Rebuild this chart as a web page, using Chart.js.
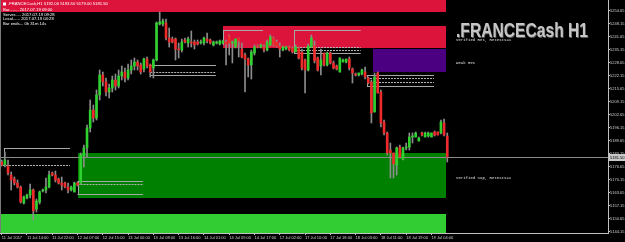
<!DOCTYPE html>
<html>
<head>
<meta charset="utf-8">
<script src="https://cdn.jsdelivr.net/npm/chart.js@4.4.1/dist/chart.umd.min.js"></script>
<style>
  html, body { margin:0; padding:0; background:#000; }
  canvas { display:block; }
</style>
</head>
<body>
<canvas id="graph" width="625" height="242"></canvas>
<script>
/* ---- H1 bars ---- */
const opens = [
  5179, 5177.5, 5177, 5172.5, 5170.5, 5168.5, 5166.5, 5158.5, 5161, 5162.5,
  5165, 5155.5, 5159, 5164.5, 5165, 5166.5, 5173.5, 5172.5, 5170.5, 5168.5,
  5168.5, 5166.5, 5165, 5164, 5168.5, 5168.5, 5182, 5186, 5196, 5205,
  5201, 5212.5, 5222.5, 5219, 5214, 5216, 5220, 5217, 5222, 5224,
  5221, 5225, 5227, 5229, 5227.5, 5225.5, 5230.5, 5227.5, 5226, 5230,
  5248, 5248, 5248.5, 5241, 5240.5, 5240.5, 5235.5, 5235, 5240, 5238.5,
  5239, 5239, 5239, 5238.5, 5238.5, 5240.5, 5240, 5237.5, 5238.5, 5238,
  5238.5, 5239, 5242, 5238.5, 5236.5, 5241, 5235.5, 5232.5, 5230.5, 5227.5,
  5233.5, 5237, 5236.5, 5236.5, 5235, 5237.5, 5241, 5239, 5237, 5235,
  5235.5, 5236.5, 5236, 5234, 5236, 5234, 5230, 5225, 5236.5, 5237,
  5231, 5227, 5233.5, 5227.5, 5233.5, 5228.5, 5227, 5224, 5229, 5229,
  5230.5, 5225.5, 5223, 5222.5, 5223, 5224, 5221, 5219, 5204, 5223.5,
  5214, 5199, 5193.5, 5185, 5183.5, 5177.5, 5186.5, 5180.5, 5186, 5186.5,
  5191.5, 5191.5, 5189.5, 5193.5, 5191.5, 5192, 5191.5, 5194, 5194, 5193.5,
  5198.5, 5192
];
const highs = [
  5180, 5184, 5180, 5174, 5171.5, 5170, 5167, 5162, 5163, 5168,
  5165.5, 5160.5, 5164.5, 5165.5, 5171, 5174.5, 5174, 5174.5, 5171, 5171.5,
  5169, 5168.5, 5167, 5169, 5169, 5183.5, 5187.5, 5197.5, 5210, 5207.5,
  5215, 5225, 5224, 5221, 5218, 5222, 5223, 5225, 5227, 5226,
  5228, 5230, 5231, 5230, 5228.5, 5231, 5231.5, 5228, 5230.5, 5249,
  5254, 5250.5, 5250.5, 5246, 5241.5, 5241, 5238.5, 5240.5, 5241, 5241.5,
  5244.5, 5240, 5240, 5240, 5241.5, 5243.5, 5240.5, 5239.5, 5239.5, 5240,
  5240, 5240, 5242.5, 5239.5, 5240.5, 5241, 5238.5, 5233.5, 5231, 5235,
  5237.5, 5237.5, 5238, 5237.5, 5240, 5242.5, 5241.5, 5240, 5238.5, 5237,
  5237, 5237, 5236.5, 5237.5, 5236.5, 5235.5, 5230.5, 5238, 5242.5, 5239.5,
  5231.5, 5235.5, 5233.5, 5234, 5234, 5229.5, 5227.5, 5231, 5230.5, 5230.5,
  5231.5, 5226, 5223.5, 5223.5, 5225.5, 5226.5, 5221.5, 5220, 5223.5, 5224,
  5215, 5200, 5194, 5188.5, 5183.5, 5186.5, 5187.5, 5186.5, 5188.5, 5193.5,
  5193.5, 5194, 5191.5, 5194, 5194, 5194, 5193.5, 5194.5, 5194, 5200,
  5200.5, 5193.5
];
const lows = [
  5177, 5176.5, 5172.5, 5165, 5167.5, 5166, 5158.5, 5158, 5160.5, 5161,
  5150, 5154, 5158, 5164, 5163.5, 5166, 5172, 5169, 5168, 5165,
  5166, 5163.5, 5164.5, 5164, 5167, 5168, 5176.5, 5181.5, 5194, 5199,
  5200, 5210, 5217, 5212, 5211, 5214, 5215, 5216, 5220, 5219,
  5220, 5223, 5225, 5225, 5223, 5224, 5226, 5221.5, 5221, 5229.5,
  5247.5, 5247, 5240, 5236.5, 5238.5, 5230, 5231, 5234, 5238.5, 5236.5,
  5236.5, 5235.5, 5237.5, 5238, 5237.5, 5238.5, 5238, 5237, 5238, 5237.5,
  5238, 5227.5, 5232.5, 5228.5, 5236, 5231.5, 5231, 5214, 5221.5, 5220.5,
  5232.5, 5236, 5236, 5234, 5234.5, 5237, 5237, 5236.5, 5231.5, 5234.5,
  5235, 5234.5, 5233.5, 5234, 5230.5, 5225, 5213.5, 5224.5, 5236.5, 5228.5,
  5224.5, 5222.5, 5227, 5227, 5228, 5225.5, 5225, 5224, 5229, 5228.5,
  5225, 5218.5, 5222, 5222, 5222.5, 5220.5, 5218, 5198.5, 5204, 5213.5,
  5196.5, 5192.5, 5182.5, 5171, 5171, 5172.5, 5181, 5180, 5185, 5185,
  5188.5, 5191.5, 5189.5, 5192, 5191.5, 5191.5, 5191.5, 5192, 5192.5, 5193,
  5192, 5179
];
const closes = [
  5177.5, 5180, 5173.5, 5170, 5168.5, 5166.5, 5159, 5161.5, 5162.5, 5165,
  5154.5, 5159.5, 5164, 5165, 5166.5, 5172.5, 5172.5, 5170, 5168.5, 5167.5,
  5166.5, 5165, 5166.5, 5168.5, 5167.5, 5182.5, 5186, 5196, 5205, 5201,
  5212.5, 5222.5, 5219, 5214, 5216, 5220, 5217, 5222, 5224, 5221,
  5225, 5227, 5229, 5227, 5224, 5230.5, 5227, 5224, 5230, 5248.5,
  5249, 5249.5, 5241, 5239, 5239, 5235.5, 5235, 5239, 5239, 5240.5,
  5238.5, 5237.5, 5238, 5239, 5241, 5239.5, 5238.5, 5239, 5239, 5239.5,
  5239.5, 5238, 5238.5, 5239, 5240.5, 5239.5, 5231.5, 5230.5, 5227.5, 5234,
  5236.5, 5236.5, 5237.5, 5235, 5239, 5241.5, 5237.5, 5237, 5235.5, 5236.5,
  5236.5, 5235, 5234, 5236.5, 5231, 5226, 5225, 5237, 5241, 5229.5,
  5225, 5230, 5227.5, 5233.5, 5228.5, 5226, 5225.5, 5231, 5230, 5230.5,
  5226, 5223.5, 5222.5, 5223.5, 5225, 5221.5, 5218.5, 5203.5, 5221.5, 5213.5,
  5198.5, 5193.5, 5183.5, 5183.5, 5178, 5186, 5181.5, 5186, 5186.5, 5191.5,
  5192, 5193.5, 5191, 5192.5, 5193.5, 5193.5, 5193.5, 5192.5, 5192.5, 5199,
  5192.5, 5181.5
];

/* time axis: one label every 8 bars */
const xTickBars = [0, 8, 16, 24, 32, 40, 48, 56, 64, 72, 80, 88, 96, 104, 112, 120, 128, 136];
const xTickLabels = ['11 Jul 2017', '11 Jul 14:00', '11 Jul 22:00', '12 Jul 07:00', '12 Jul 15:00', '13 Jul 00:00',
  '13 Jul 08:00', '13 Jul 16:00', '14 Jul 01:00', '14 Jul 09:00', '14 Jul 17:00', '17 Jul 02:00',
  '17 Jul 10:00', '17 Jul 18:00', '18 Jul 03:00', '18 Jul 11:00', '18 Jul 19:00', '19 Jul 04:00'];
const yTicks = [5254.65, 5248.15, 5241.65, 5235.15, 5228.65, 5222.15, 5215.65, 5209.15, 5202.65,
  5196.15, 5189.65, 5183.15, 5176.65, 5170.15, 5163.65, 5157.15, 5150.65, 5144.15];

/* supply / demand zones (bar from, bar to, price top, price bottom) */
const zoneNames  = ['topRes', 'res', 'weakRes', 'sup', 'bottomSup'];
const zoneFrom   = [-1, 70, 117.6, 24, -1];
const zoneTo     = [140.6, 140.6, 140.6, 140.6, 140.6];
const zoneTop    = [5260, 5247, 5235.5, 5183.5, 5153];
const zoneBottom = [5254.2, 5236, 5224, 5161, 5143.5];
const zoneTexts  = ['', 'Verified Res, Retests=1', 'Weak Res', 'Verified Sup, Retests=1', ''];

/* grey level lines (bar from, bar to, price) and their left edges (bar, top, bottom) */
const solidLevels = [[0.7, 21.6, 5186], [24, 44.7, 5169.5], [24, 44.7, 5163], [47, 67.8, 5227.5], [47, 67.8, 5222.5],
  [70, 82.7, 5245], [92.5, 113.6, 5245], [92.5, 113.6, 5233.5], [115.6, 136.8, 5222.5], [115.6, 136.8, 5217]];
const dottedLevels = [[0.4, 21.6, 5177.5], [24, 44.7, 5168], [47, 67.8, 5224], [92.5, 113.6, 5236.5],
  [92.5, 113.6, 5235], [115.6, 136.8, 5221], [115.6, 136.8, 5219]];
const levelEdges = [[0.7, 5186, 5177.5], [24, 5169.5, 5163], [47, 5227.5, 5222.5], [70, 5245, 5237.5],
  [92.5, 5245, 5233.5], [115.6, 5222.5, 5217]];

const symbole = '.FRANCECash';
const infoLignes = ['Bar........ 2017.07.19 09:00', 'Server..... 2017.07.19 09:28',
  'Local...... 2017.07.19 04:28', 'Bar ends... 0h 31m 14s'];

/* ---- styles ---- */
const HAUT = '#2ed12e', BAS = '#ee2a2a', MECHE = '#8c8c8c';
const zoneCouleurs = { topRes:'#dc143c', res:'#dc143c', weakRes:'#4b0082', sup:'#008000', bottomSup:'#32cd32' };
const SANS = '"Liberation Sans", Arial, sans-serif';
const MONO = '"Liberation Mono", "DejaVu Sans Mono", monospace';

const n = closes.length;
const dernier = n - 1;
const fmt = v => v.toFixed(2);

const net = v => Math.round(v) + 0.5;

const habillage = {
  id: 'habillage',
  beforeDatasetsDraw(chart){
    const { ctx, chartArea:a, scales:{ x, y } } = chart;
    ctx.save();
    ctx.beginPath(); ctx.rect(a.left, a.top, a.right - a.left, a.bottom - a.top); ctx.clip();

    /* zones */
    zoneNames.forEach((nom, k) => {
      const x1 = Math.round(x.getPixelForValue(zoneFrom[k])), x2 = Math.round(x.getPixelForValue(zoneTo[k]));
      const y1 = Math.round(y.getPixelForValue(zoneTop[k])), y2 = Math.round(y.getPixelForValue(zoneBottom[k]));
      ctx.fillStyle = zoneCouleurs[nom];
      ctx.fillRect(x1, y1, x2 - x1, y2 - y1);
    });

    /* niveaux gris */
    ctx.lineWidth = 1;
    ctx.strokeStyle = '#a8a8a8';
    ctx.setLineDash([]);
    solidLevels.forEach(([b1, b2, p]) => {
      const yy = net(y.getPixelForValue(p));
      ctx.beginPath(); ctx.moveTo(x.getPixelForValue(b1), yy); ctx.lineTo(x.getPixelForValue(b2), yy); ctx.stroke();
    });
    levelEdges.forEach(([b, p1, p2]) => {
      const xx = net(x.getPixelForValue(b));
      ctx.beginPath(); ctx.moveTo(xx, y.getPixelForValue(p1)); ctx.lineTo(xx, y.getPixelForValue(p2)); ctx.stroke();
    });
    ctx.strokeStyle = '#b4b4b4';
    ctx.setLineDash([2, 1]);
    dottedLevels.forEach(([b1, b2, p]) => {
      const yy = net(y.getPixelForValue(p));
      ctx.beginPath(); ctx.moveTo(x.getPixelForValue(b1), yy); ctx.lineTo(x.getPixelForValue(b2), yy); ctx.stroke();
    });
    ctx.setLineDash([]);

    /* ligne bid */
    const yb = net(y.getPixelForValue(closes[dernier]));
    ctx.strokeStyle = '#8a8a8a';
    ctx.beginPath(); ctx.moveTo(a.left, yb); ctx.lineTo(a.right, yb); ctx.stroke();
    ctx.restore();
  },

  afterDatasetsDraw(chart){
    const { ctx, chartArea:a, scales:{ x, y } } = chart;
    ctx.save();
    ctx.textBaseline = 'middle';

    /* libellés des zones, à droite */
    const posTexte = { res: 40, weakRes: 62.5, sup: 178 };
    ctx.font = '4px ' + MONO;
    ctx.fillStyle = '#e0e0e0';
    zoneNames.forEach((nom, k) => { if(zoneTexts[k]) ctx.fillText(zoneTexts[k], 456, posTexte[nom]); });

    /* titre */
    const titre = symbole + ' H1';
    ctx.font = 'bold 21px ' + SANS;
    ctx.textBaseline = 'alphabetic';
    const w = ctx.measureText(titre).width;
    ctx.save();
    ctx.translate(456, 37); ctx.scale(132 / w, 1);
    ctx.fillStyle = '#5c5c5c'; ctx.fillText(titre, 1, 1);
    ctx.fillStyle = '#c6c6c6'; ctx.fillText(titre, 0, 0);
    ctx.restore();

    /* infos en haut à gauche */
    ctx.textBaseline = 'middle';
    ctx.font = '4.2px ' + SANS;
    ctx.fillStyle = '#ffffff';
    ctx.fillRect(3, 2.5, 3, 3);
    ctx.fillText(`${symbole},H1 ${fmt(opens[dernier])} ${fmt(highs[dernier])} ${fmt(lows[dernier])} ${fmt(closes[dernier])}`, 8, 4.2);
    infoLignes.forEach((t, k) => ctx.fillText(t, 3, 9.5 + k * 4.9));

    /* cadre gauche */
    ctx.strokeStyle = '#7a7a7a'; ctx.lineWidth = 1;
    ctx.beginPath(); ctx.moveTo(0.5, a.top); ctx.lineTo(0.5, a.bottom); ctx.stroke();

    /* étiquette du prix courant */
    const yc = Math.round(y.getPixelForValue(closes[dernier]));
    ctx.fillStyle = '#c8c8c8';
    ctx.fillRect(a.right + 1, yc - 3, 625 - a.right - 1, 7);
    ctx.fillStyle = '#000000';
    ctx.font = '4px ' + SANS;
    ctx.fillText(fmt(closes[dernier]), a.right + 2, yc + 0.5);
    ctx.restore();
  }
};

const idx = closes.map((_, i) => i);
const couleur = idx.map(i => closes[i] >= opens[i] ? HAUT : BAS);

new Chart(document.getElementById('graph'), {
  type: 'bar',
  data: {
    datasets: [
      { label: 'corps', data: idx.map(i => ({ x: i, y: [opens[i], closes[i]] })), backgroundColor: couleur,
        borderWidth: 0, barThickness: 2, grouped: false, order: 1 },
      { label: 'meche', data: idx.map(i => ({ x: i, y: [lows[i], highs[i]] })), backgroundColor: MECHE,
        borderWidth: 0, barThickness: 1, grouped: false, order: 2 },
    ]
  },
  options: {
    responsive: false,
    animation: false,
    devicePixelRatio: 1,
    layout: { padding: 0 },
    plugins: { legend: { display: false }, tooltip: { enabled: false }, title: { display: false } },
    scales: {
      x: {
        type: 'linear', bounds: 'data', offset: false, min: -0.54, max: 191.87, position: 'bottom',
        grid: { offset: false, drawOnChartArea: false, drawTicks: true, tickLength: 2, color: '#c0c0c0' },
        border: { display: true, color: '#c0c0c0' },
        ticks: { color: '#d0d0d0', font: { size: 4, family: SANS }, padding: 0, align: 'start',
          autoSkip: false, maxRotation: 0, callback: (v, i) => xTickLabels[i] },
        afterBuildTicks: s => { s.ticks = xTickBars.map(v => ({ value: v })); },
        afterFit: s => { s.height = 9; s.paddingLeft = 0; s.paddingRight = 0; }
      },
      y: {
        type: 'linear', bounds: 'data', min: 5143.5, max: 5260, position: 'right',
        grid: { drawOnChartArea: false, drawTicks: true, tickLength: 2, color: '#c0c0c0' },
        border: { display: true, color: '#c0c0c0' },
        ticks: { color: '#d0d0d0', font: { size: 4, family: SANS }, padding: 0, callback: v => fmt(v) },
        afterBuildTicks: s => { s.ticks = yTicks.map(v => ({ value: v })); },
        afterFit: s => { s.width = 17; s.paddingTop = 0; s.paddingBottom = 0; }
      }
    }
  },
  plugins: [habillage]
});
</script>
</body>
</html>
